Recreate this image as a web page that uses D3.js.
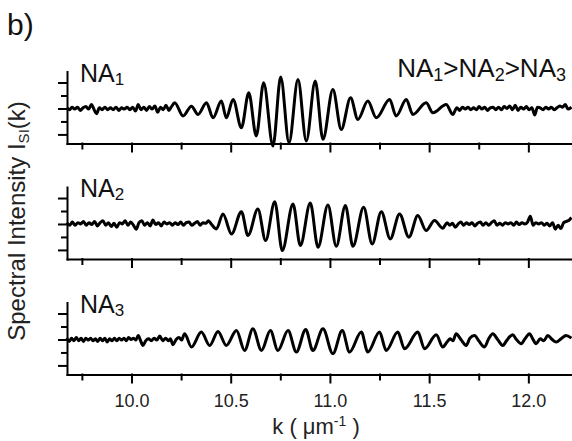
<!DOCTYPE html>
<html>
<head>
<meta charset="utf-8">
<script src="https://cdn.jsdelivr.net/npm/d3@7"></script>
<style>
  body { margin: 0; background: white; }
  svg { display: block; font-family: "Liberation Sans", Arial, sans-serif; }
</style>
</head>
<body>
<svg id="chart"></svg>
<script>
//tick values
const xMajorTicks = [10.0, 10.5, 11.0, 11.5, 12.0];
const xMinorTicks = [9.75, 10.25, 10.75, 11.25, 11.75];
const yMajorTicks = [-2, 0, 2];
const yMinorTicks = [-1, 1];
const panelIndex = ["1", "2", "3"];

//spectral intensity per NA, [k (1/um), intensity]
const na1 = [
    [9.674, 0.05], [9.688, -0.1], [9.70, 0.1], [9.714, -0.05], [9.728, 0.1], [9.742, -0.15], [9.756, 0.05],
    [9.77, 0.15], [9.784, -0.05], [9.798, 0.3], [9.812, -0.1], [9.824, -0.4], [9.838, 0.05], [9.852, -0.1],
    [9.866, 0.1], [9.88, -0.1], [9.894, 0.05], [9.908, -0.1], [9.922, 0.1], [9.936, -0.15], [9.95, 0.05],
    [9.964, -0.05], [9.978, 0.1], [9.992, -0.1], [10.006, 0.1], [10.02, -0.2], [10.034, 0.3], [10.048, -0.1],
    [10.062, 0.1], [10.076, -0.15], [10.09, 0.15], [10.104, -0.05], [10.118, 0.2], [10.132, -0.3], [10.146, 0.1],
    [10.16, -0.1], [10.174, 0.25], [10.188, -0.15], [10.2, 0.1],
    [10.218, 0.44], [10.26, -0.58], [10.302, 0.18], [10.335, -0.46], [10.378, 0.44], [10.411, -0.72],
    [10.453, 0.57], [10.478, -0.72], [10.512, 0.69], [10.554, -1.48], [10.591, 1.21], [10.629, -2.12],
    [10.666, 1.98], [10.713, -2.89], [10.752, 2.42], [10.794, -2.64], [10.839, 2.23], [10.881, -2.51],
    [10.926, 2.11], [10.965, -2.38], [11.015, 1.46], [11.057, -1.62], [11.104, 0.82], [11.141, -0.85],
    [11.191, 0.57], [11.234, -0.72], [11.301, 0.69], [11.334, -0.58], [11.385, 0.69], [11.418, -0.46],
    [11.485, 0.44], [11.519, -0.33], [11.586, 0.31], [11.619, -0.46],
    [11.64, 0.05], [11.654, -0.15], [11.668, 0.1], [11.682, -0.05], [11.696, 0.1], [11.71, -0.1], [11.724, 0.05],
    [11.738, -0.1], [11.752, 0.15], [11.766, -0.05], [11.78, 0.1], [11.794, -0.15], [11.808, 0.05], [11.822, 0.1],
    [11.836, -0.1], [11.85, 0.1], [11.864, -0.1], [11.878, 0.15], [11.892, 0.0], [11.906, 0.2], [11.92, -0.1],
    [11.934, 0.25], [11.948, -0.15], [11.962, 0.1], [11.976, -0.05], [11.99, 0.15], [12.004, -0.1], [12.018, 0.05],
    [12.032, -0.5], [12.046, 0.1], [12.06, 0.05], [12.074, -0.1], [12.088, 0.1], [12.102, -0.05], [12.116, 0.1],
    [12.13, -0.1], [12.144, 0.05], [12.158, 0.2], [12.172, 0.1], [12.186, 0.3], [12.2, -0.05], [12.217, 0.1]
];

const na2 = [
    [9.674, 0.1], [9.688, -0.1], [9.702, 0.15], [9.716, -0.1], [9.73, 0.1], [9.744, 0.0], [9.758, 0.2],
    [9.772, -0.1], [9.786, 0.1], [9.80, -0.05], [9.814, 0.2], [9.828, -0.15], [9.842, 0.1], [9.856, 0.25],
    [9.87, -0.1], [9.884, 0.1], [9.898, -0.2], [9.912, 0.05], [9.926, -0.25], [9.94, 0.1], [9.954, 0.0],
    [9.968, 0.25], [9.982, -0.1], [9.996, 0.15], [10.01, -0.1], [10.024, -0.4], [10.038, 0.1], [10.052, 0.25],
    [10.066, -0.1], [10.08, 0.1], [10.094, -0.15], [10.108, 0.3], [10.122, -0.05], [10.136, 0.1], [10.15, -0.15],
    [10.164, 0.15], [10.178, 0.0], [10.192, 0.1], [10.206, -0.1], [10.22, 0.1], [10.234, -0.05], [10.248, 0.15],
    [10.262, -0.1], [10.276, 0.1], [10.29, 0.15], [10.304, -0.1], [10.318, 0.05], [10.332, 0.2], [10.346, -0.1],
    [10.36, 0.1], [10.374, 0.05], [10.388, 0.25], [10.402, 0.0],
    [10.428, -0.38], [10.461, 0.77], [10.504, -0.77], [10.554, 0.95], [10.587, -0.89], [10.637, 1.15],
    [10.676, -1.28], [10.722, 1.72], [10.76, -2.05], [10.814, 1.54], [10.851, -1.66], [10.901, 1.62],
    [10.94, -1.79], [10.99, 1.46], [11.032, -1.72], [11.078, 1.42], [11.116, -1.72], [11.17, 1.28],
    [11.213, -1.54], [11.259, 0.95], [11.304, -1.15], [11.351, 0.77], [11.398, -1.02], [11.443, 0.65],
    [11.485, -0.51], [11.527, 0.26], [11.569, -0.33],
    [11.59, 0.1], [11.604, -0.1], [11.618, 0.05], [11.632, -0.25], [11.646, 0.0], [11.66, 0.15], [11.674, -0.1],
    [11.688, 0.1], [11.702, -0.05], [11.716, 0.1], [11.73, -0.15], [11.744, 0.05], [11.758, 0.15], [11.772, -0.1],
    [11.786, 0.1], [11.80, -0.1], [11.814, 0.1], [11.828, 0.25], [11.842, -0.1], [11.856, 0.05], [11.87, -0.1],
    [11.884, 0.1], [11.898, 0.0], [11.912, 0.1], [11.926, -0.1], [11.94, 0.15], [11.954, -0.05], [11.968, 0.1],
    [11.982, 0.0], [11.996, 0.15], [12.01, 0.6], [12.024, -0.1], [12.038, 0.1], [12.052, 0.0], [12.066, 0.1],
    [12.08, -0.1], [12.094, 0.05], [12.108, -0.15], [12.122, 0.1], [12.136, -0.4], [12.15, -0.1], [12.164, -0.35],
    [12.178, 0.1], [12.192, 0.2], [12.206, 0.3], [12.217, 0.5]
];

const na3 = [
    [9.674, 0.1], [9.686, -0.15], [9.698, 0.1], [9.71, -0.1], [9.722, 0.15], [9.734, -0.1], [9.746, 0.1],
    [9.758, -0.15], [9.77, 0.1], [9.782, -0.05], [9.794, 0.1], [9.806, -0.1], [9.818, 0.05], [9.83, -0.15],
    [9.842, 0.1], [9.854, -0.1], [9.866, 0.1], [9.878, -0.2], [9.89, 0.05], [9.902, -0.1], [9.914, 0.1],
    [9.926, -0.1], [9.938, 0.1], [9.95, -0.05], [9.962, 0.1], [9.974, -0.1], [9.986, 0.15], [9.998, 0.0],
    [10.01, 0.1], [10.022, -0.05], [10.034, 0.3], [10.046, -0.1], [10.058, -0.46], [10.072, -0.1], [10.086, 0.05],
    [10.1, -0.1], [10.114, 0.1], [10.128, -0.05], [10.142, 0.26], [10.158, -0.1], [10.172, 0.1], [10.186, -0.1],
    [10.196, 0.05], [10.209, -0.41], [10.225, 0.0], [10.24, 0.15], [10.252, -0.05],
    [10.268, 0.44], [10.302, -0.58], [10.352, 0.57], [10.394, -0.46], [10.436, 0.62], [10.478, -0.46],
    [10.529, 0.69], [10.57, -0.85], [10.612, 0.82], [10.655, -0.85], [10.7, 0.69], [10.738, -0.85],
    [10.789, 0.69], [10.831, -0.97], [10.878, 0.77], [10.914, -0.85], [10.965, 0.82], [11.015, -1.1],
    [11.062, 0.69], [11.099, -0.97], [11.158, 0.57], [11.191, -0.97], [11.25, 0.57], [11.284, -0.85],
    [11.342, 0.57], [11.376, -0.72], [11.443, 0.57], [11.477, -0.72], [11.536, 0.36], [11.569, -0.58],
    [11.59, -0.2], [11.605, 0.05], [11.62, -0.1], [11.636, 0.44], [11.66, 0.0], [11.687, -0.46], [11.705, 0.1],
    [11.729, 0.31], [11.75, -0.1], [11.779, -0.58], [11.8, 0.05], [11.821, 0.44], [11.845, 0.0], [11.871, -0.46],
    [11.89, -0.1], [11.905, 0.2], [11.921, 0.36], [11.94, 0.0], [11.964, -0.33], [11.985, 0.1], [12.006, 0.44],
    [12.022, 0.05], [12.039, -0.33], [12.06, 0.05], [12.078, -0.1], [12.098, 0.31], [12.12, 0.0], [12.14, -0.2],
    [12.165, 0.05], [12.19, 0.31], [12.217, 0.1]
];

const spectra = [na1, na2, na3];

//setup chart
const width = 572;
const height = 441;
const svg = d3.select("#chart")
    .attr("width", width)
    .attr("height", height);

const x = d3.scaleLinear()
    .domain([9.675, 12.22])
    .range([67, 572]);

const panelH = 72;
const panelGap = 115.5;
const firstBottom = 143.5;

function styleAxis(sel) {
    sel.selectAll("path, line")
        .attr("stroke", "#000")
        .attr("stroke-width", 2)
        .attr("stroke-linecap", "square");
    sel.attr("font-family", null);
}

//draw one panel (signal + axes + label)
function drawPanel(data, i) {
    const bottom = firstBottom + i * panelGap;
    const y = d3.scaleLinear()
        .domain([-2.7, 2.85])
        .range([bottom, bottom - panelH]);

    const g = svg.append("g");

    const line = d3.line()
        .x(d => x(d[0]))
        .y(d => y(d[1]))
        .curve(d3.curveMonotoneX);

    g.append("path")
        .datum(data)
        .attr("d", line)
        .attr("fill", "none")
        .attr("stroke", "#000")
        .attr("stroke-width", 3)
        .attr("stroke-linejoin", "round");

    //left axis, longer ticks at -2/0/2
    g.append("g")
        .attr("transform", `translate(${x.range()[0]},0)`)
        .call(d3.axisLeft(y).tickValues(yMajorTicks).tickSize(8).tickSizeOuter(0).tickFormat(""))
        .call(styleAxis);
    g.append("g")
        .attr("transform", `translate(${x.range()[0]},0)`)
        .call(d3.axisLeft(y).tickValues(yMinorTicks).tickSize(5).tickFormat(""))
        .call(styleAxis)
        .select(".domain").remove();

    //bottom axis, labels only on the last panel
    const bx = g.append("g")
        .attr("transform", `translate(0,${bottom})`)
        .call(d3.axisBottom(x)
            .tickValues(xMajorTicks)
            .tickSize(8)
            .tickSizeOuter(0)
            .tickPadding(12)
            .tickFormat(i === 2 ? d3.format(".1f") : ""))
        .call(styleAxis);
    bx.attr("font-size", 18);
    bx.selectAll("text").attr("fill", "#222");

    g.append("g")
        .attr("transform", `translate(0,${bottom})`)
        .call(d3.axisBottom(x).tickValues(xMinorTicks).tickSize(5).tickFormat(""))
        .call(styleAxis)
        .select(".domain").remove();

    //NA label
    const lab = g.append("text")
        .attr("x", 80)
        .attr("y", bottom - 62)
        .attr("font-size", 25)
        .attr("fill", "#111")
        .text("NA");
    lab.append("tspan")
        .attr("dy", 3)
        .attr("font-size", 17)
        .text(panelIndex[i]);
}

spectra.forEach((d, i) => drawPanel(d, i));

//NA1>NA2>NA3
const order = svg.append("text")
    .attr("x", 566)
    .attr("y", 77)
    .attr("text-anchor", "end")
    .attr("font-size", 26)
    .attr("fill", "#111");
panelIndex.forEach((n, i) => {
    order.append("tspan").attr("dy", i === 0 ? 0 : -4).text((i === 0 ? "" : ">") + "NA");
    order.append("tspan").attr("dy", 4).attr("font-size", 18).text(n);
});

//panel letter
svg.append("text")
    .attr("x", 7)
    .attr("y", 35)
    .attr("font-size", 30)
    .attr("fill", "#111")
    .text("b)");

//y axis title
const yt = svg.append("text")
    .attr("transform", "translate(25,221) rotate(-90)")
    .attr("text-anchor", "middle")
    .attr("font-size", 24)
    .attr("fill", "#222")
    .text("Spectral Intensity I");
yt.append("tspan").attr("dy", 4).attr("font-size", 15).text("SI");
yt.append("tspan").attr("dy", -4).text("(k)");

//x axis title
const xt = svg.append("text")
    .attr("x", 316)
    .attr("y", 434)
    .attr("text-anchor", "middle")
    .attr("font-size", 22)
    .attr("fill", "#222")
    .text("k ( \u03bcm");
xt.append("tspan").attr("dy", -8).attr("font-size", 14).text("-1");
xt.append("tspan").attr("dy", 8).text(" )");
</script>
</body>
</html>
